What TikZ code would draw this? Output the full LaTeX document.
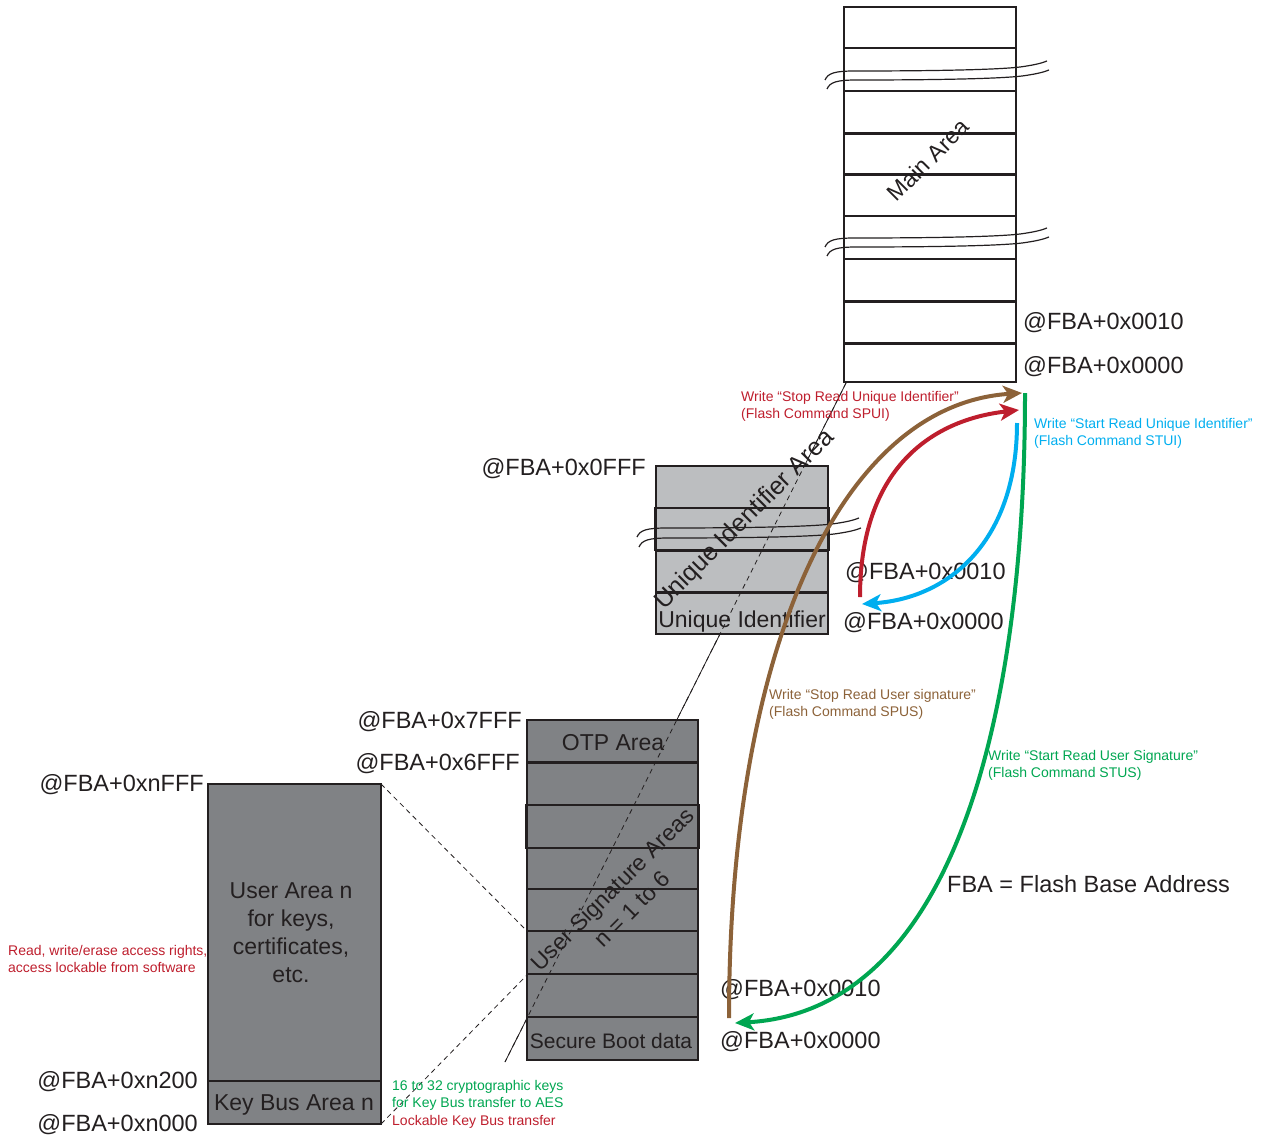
\documentclass[tikz,border=0pt]{standalone}
\usepackage{fontspec}
\setmainfont{Liberation Sans}
\usetikzlibrary{arrows.meta}
\definecolor{cred}{HTML}{BE1E2D}
\definecolor{ccyan}{HTML}{00AEEF}
\definecolor{cgreen}{HTML}{00A651}
\definecolor{cbrown}{HTML}{8C6239}
\definecolor{dgray}{HTML}{808285}
\definecolor{lgray}{HTML}{BCBEC0}
\definecolor{ink}{HTML}{231F20}
\begin{document}
\begin{tikzpicture}[x=1pt,y=-1pt,
  box/.style={draw=ink,line width=2pt},
  septhick/.style={draw=ink,line width=3pt},
  septhin/.style={draw=ink,line width=2pt},
  addr/.style={font=\fontsize{23.5}{27}\selectfont,text=ink,inner sep=0pt},
  big/.style={font=\fontsize{23}{28}\selectfont,text=ink,inner sep=0pt,align=center},
  small/.style={font=\fontsize{14}{17}\selectfont,inner sep=0pt},
  thinline/.style={draw=ink,line width=0.8pt},
  arr/.style={line width=4pt,-{Stealth[length=19pt,width=17pt,inset=5pt]}},
  wave/.pic={\draw[ink,line width=1.2pt] (0,0) .. controls (3,-7) and (10,-9) .. (30,-9)
     .. controls (100,-9) and (170,-10) .. (195,-13) .. controls (210,-15) and (217,-17) .. (222,-19);}
]
\useasboundingbox (0,0) rectangle (1265,1137);

% named points
\coordinate (ln1) at (846,383);
\coordinate (ln2) at (505,1062);
\coordinate (uaTR) at (381,784);
\coordinate (usaL1) at (527,931);
\coordinate (uaBR) at (381,1124);
\coordinate (usaL2) at (527,975);

% thin solid guide line (under boxes)
\draw[thinline] (ln1) -- (ln2);

% Main area
\draw[box,fill=white] (844,7) rectangle (1016,382);
\foreach \yy in {48,91,216,259} \draw[septhin] (844,\yy) -- (1016,\yy);
\foreach \yy in {133,174,301,343} \draw[septhick] (844,\yy) -- (1016,\yy);
\pic at (825,80) {wave};
\pic at (827,89) {wave};
\pic at (825,247) {wave};
\pic at (827,256) {wave};
\node[big,rotate=45] (mainlbl) at (928,160) {Main Area};

% Unique identifier area
\draw[box,fill=lgray] (656,466) rectangle (828,634);
\draw[box] (655,508) rectangle (829,550);
\draw[septhick] (656,550) -- (828,550);
\draw[septhick] (656,592) -- (828,592);
\pic at (637,537) {wave};
\pic at (639,547) {wave};

% User signature areas
\draw[box,fill=dgray] (527,720) rectangle (698,1060);
\draw[septhick] (527,762) -- (698,762);
\draw[box] (526,805) rectangle (699,848);
\foreach \yy in {889,931,974,1017} \draw[septhin] (527,\yy) -- (698,\yy);

% User area n
\draw[box,fill=dgray] (208,784) rectangle (381,1124);
\draw[septhin] (208,1081) -- (381,1081);

% dashed guide lines
\draw[thinline,dashed,dash pattern=on 5pt off 4pt] (ln1) -- (ln2);
\draw[thinline,dashed,dash pattern=on 5pt off 4pt] (uaTR) -- (usaL1);
\draw[thinline,dashed,dash pattern=on 5pt off 4pt] (uaBR) -- (usaL2);

% texts inside boxes
\node[big,rotate=45,font=\fontsize{25}{30}\selectfont] (uiarea) at (745,520) {Unique Identifier Area};
\node[big] (uid) at (742,622) {Unique Identifier};
\node[big] (otp) at (613,743) {OTP Area};
\node[big,font=\fontsize{21}{25}\selectfont] (sbd) at (611,1041) {Secure Boot data};
\node[big,rotate=45] (usig) at (622,899) {User Signature Areas\\n = 1 to 6};
\node[big] (uan) at (291,933) {User Area n\\for keys,\\certificates,\\etc.};
\node[big] (kba) at (294,1105) {Key Bus Area n};

% addresses
\node[addr,anchor=base west] (a1) at (1023,329) {@FBA+0x0010};
\node[addr,anchor=base west] (a2) at (1023,373) {@FBA+0x0000};
\node[addr,anchor=base east] (a3) at (646,475) {@FBA+0x0FFF};
\node[addr,anchor=base west] (a4) at (845,579) {@FBA+0x0010};
\node[addr,anchor=base west] (a5) at (843,629) {@FBA+0x0000};
\node[addr,anchor=base east] (a6) at (522,728) {@FBA+0x7FFF};
\node[addr,anchor=base east] (a7) at (520,770) {@FBA+0x6FFF};
\node[addr,anchor=base east] (a8) at (204,791) {@FBA+0xnFFF};
\node[addr,anchor=base east] (a9) at (198,1088) {@FBA+0xn200};
\node[addr,anchor=base east] (a10) at (198,1131) {@FBA+0xn000};
\node[addr,anchor=base west] (a11) at (720,996) {@FBA+0x0010};
\node[addr,anchor=base west] (a12) at (720,1048) {@FBA+0x0000};
\node[addr,anchor=base west] (fba) at (947,892) {FBA = Flash Base Address};

% arrows
\coordinate (brS) at (729,1018);
\coordinate (brE) at (1022,393);
\coordinate (grS) at (1025,393);
\coordinate (grE) at (735,1023);
\coordinate (rdS) at (860,597);
\coordinate (rdE) at (1019,410);
\coordinate (cyS) at (1017,423);
\coordinate (cyE) at (862,604);
\draw[arr,cbrown] (brS) .. controls (729,650) and (840,405) .. (brE);
\draw[arr,cgreen] (grS) .. controls (1025,700) and (960,1010) .. (grE);
\draw[arr,cred] (rdS) .. controls (860,470) and (930,420) .. (rdE);
\draw[arr,ccyan] (cyS) .. controls (1017,540) and (950,598) .. (cyE);

% small annotations
\node[small,text=cred,anchor=base west] (t1) at (741,401) {Write “Stop Read Unique Identifier”};
\node[small,text=cred,anchor=base west] (t2) at (741,418) {(Flash Command SPUI)};
\node[small,text=ccyan,anchor=base west] (t3) at (1034,428) {Write “Start Read Unique Identifier”};
\node[small,text=ccyan,anchor=base west] (t4) at (1034,445) {(Flash Command STUI)};
\node[small,text=cbrown,anchor=base west] (t5) at (769,699) {Write “Stop Read User signature”};
\node[small,text=cbrown,anchor=base west] (t6) at (769,716) {(Flash Command SPUS)};
\node[small,text=cgreen,anchor=base west] (t7) at (988,760) {Write “Start Read User Signature”};
\node[small,text=cgreen,anchor=base west] (t8) at (988,777) {(Flash Command STUS)};
\node[small,text=cred,anchor=base west] (t9) at (8,955) {Read, write/erase access rights,};
\node[small,text=cred,anchor=base west] (t10) at (8,972) {access lockable from software};
\node[small,text=cgreen,anchor=base west] (t11) at (392,1090) {16 to 32 cryptographic keys};
\node[small,text=cgreen,anchor=base west] (t12) at (392,1107) {for Key Bus transfer to AES};
\node[small,text=cred,anchor=base west] (t13) at (392,1125) {Lockable Key Bus transfer};
\end{tikzpicture}
\end{document}
